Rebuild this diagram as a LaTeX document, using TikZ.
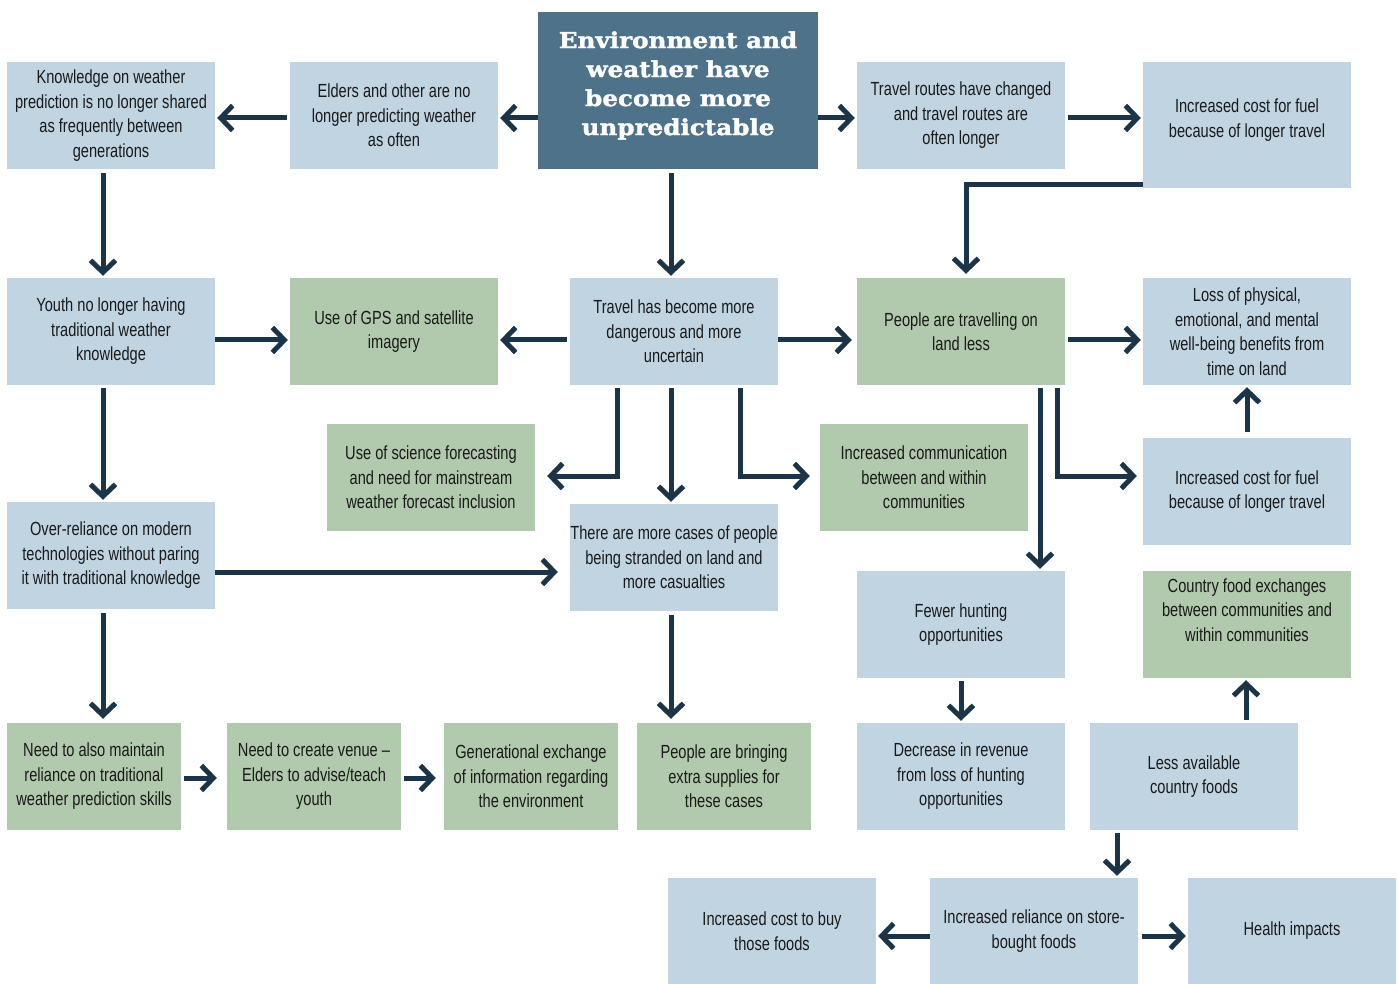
\documentclass[tikz,border=0pt]{standalone}
\usepackage{fontspec}
\setmainfont{Liberation Sans}[FakeStretch=0.77]
\newfontfamily\titlefont{DejaVu Serif}[FakeStretch=1.12,FakeBold=1.6]
\usetikzlibrary{arrows.meta}
\definecolor{boxblue}{HTML}{C0D4E2}
\definecolor{boxgreen}{HTML}{B1C9AC}
\definecolor{boxtitle}{HTML}{4E7289}
\definecolor{arrowc}{HTML}{1B3447}
\definecolor{txt}{HTML}{1A1A1A}
\begin{document}
\begin{tikzpicture}[x=1pt,y=-1pt,
 box/.style={fill=boxblue, minimum width=208pt, minimum height=107pt, inner sep=0pt, align=center, text=txt, font=\fontsize{19}{24.5}\selectfont},
 gbox/.style={box, fill=boxgreen},
 narrow/.style={minimum width=174pt},
 plaintext/.style={inner sep=0pt, align=center, text=txt, font=\fontsize{19}{24.5}\selectfont},
 arr/.style={draw=arrowc, line width=5pt, shorten <=3pt, shorten >=2pt, -{Straight Barb[length=12pt,width=25pt]}},
]
\useasboundingbox (0,0) rectangle (1398,984);
% row 1
\node[box] (K1) at (111,115.5) {Knowledge on weather\\prediction is no longer shared\\as frequently between\\generations};
\node[box] (E1) at (394,115.5) {Elders and other are no\\longer predicting weather\\as often};
\node[box, fill=boxtitle, minimum width=280pt, minimum height=157pt] (TITLE) at (678,90.5) {};
\node[inner sep=0pt, align=center, text=white, font=\titlefont\bfseries\fontsize{22}{29}\selectfont] (TITLEtext) at ([yshift=5pt]TITLE.center) {Environment and\\weather have\\become more\\unpredictable};
\node[box] (T1) at (961,115.5) {Travel routes have changed\\and travel routes are\\often longer};
\node[box, minimum height=126pt] (F1) at (1247,125) {};
\node[plaintext] (F1text) at ([yshift=5pt]F1.center) {Increased cost for fuel\\because of longer travel};
% row 2
\node[box] (Y) at (111,331.5) {Youth no longer having\\traditional weather\\knowledge};
\node[gbox] (GPS) at (394,331.5) {Use of GPS and satellite\\imagery};
\node[box] (TD) at (674,331.5) {Travel has become more\\dangerous and more\\uncertain};
\node[gbox] (PL) at (961,331.5) {People are travelling on\\land less};
\node[box] (LOSS) at (1247,331.5) {Loss of physical,\\emotional, and mental\\well-being benefits from\\time on land};
% row 3
\node[gbox] (SCI) at (431,477.5) {Use of science forecasting\\and need for mainstream\\weather forecast inclusion};
\node[gbox] (COMM) at (924,477.5) {Increased communication\\between and within\\communities};
\node[box] (FUEL2) at (1247,491.5) {Increased cost for fuel\\because of longer travel};
\node[box] (OVER) at (111,555.5) {Over-reliance on modern\\technologies without paring\\it with traditional knowledge};
\node[box] (STR) at (674,557.5) {There are more cases of people\\being stranded on land and\\more casualties};
% row 4
\node[box] (FEW) at (961,624.5) {Fewer hunting\\opportunities};
\node[gbox] (CFE) at (1247,624.5) {};
\node[plaintext] (CFEtext) at ([yshift=14.5pt]CFE.center) {Country food exchanges\\between communities and\\within communities};
% row 5
\node[gbox, narrow] (NEED) at (94,776.5) {Need to also maintain\\reliance on traditional\\weather prediction skills};
\node[gbox, narrow] (VENUE) at (314,776.5) {Need to create venue –\\Elders to advise/teach\\youth};
\node[gbox, narrow] (GEN) at (531,776.5) {Generational exchange\\of information regarding\\the environment};
\node[gbox, narrow] (BRING) at (724,776.5) {People are bringing\\extra supplies for\\these cases};
\node[box] (DEC) at (961,776.5) {Decrease in revenue\\from loss of hunting\\opportunities};
\node[box] (LESS) at (1194,776.5) {Less available\\country foods};
% row 6
\node[box, minimum height=106pt] (COST) at (772,931) {Increased cost to buy\\those foods};
\node[box, minimum height=106pt] (REL) at (1034,931) {Increased reliance on store-\\bought foods};
\node[box, minimum height=106pt] (HEALTH) at (1292,931) {Health impacts};
% connectors
\draw[arr] ([yshift=-2.5pt]E1.west) -- ([yshift=-2.5pt]K1.east);
\draw[arr, shorten <=0pt] ([yshift=-27.5pt]TITLE.west) -- ([yshift=-2.5pt]E1.east);
\draw[arr, shorten <=0pt] ([yshift=-27.5pt]TITLE.east) -- ([yshift=-2.5pt]T1.west);
\draw[arr] ([yshift=-2.5pt]T1.east) -- ([yshift=7pt]F1.west);
\draw[arr, shorten <=0pt, shorten >=4pt] ([yshift=4pt]F1.south west) -| ([xshift=5pt]PL.north);
\draw[arr, shorten <=4pt] ([xshift=-8pt]K1.south) -- ([xshift=-8pt]Y.north);
\draw[arr, shorten <=4pt] ([xshift=-7pt]TITLE.south) -- ([xshift=-3pt]TD.north);
\draw[arr, shorten <=0pt] ([yshift=-8.5pt]Y.east) -- ([yshift=-8.5pt]GPS.west);
\draw[arr] ([yshift=-8.5pt]TD.west) -- ([yshift=-8.5pt]GPS.east);
\draw[arr, shorten <=0pt, shorten >=5pt] ([yshift=-8.5pt]TD.east) -- ([yshift=-8.5pt]PL.west);
\draw[arr, shorten >=2pt] ([yshift=-8.5pt]PL.east) -- ([yshift=-8.5pt]LOSS.west);
\draw[arr, shorten <=6pt] (FUEL2.north) -- (LOSS.south);
\draw[arr] ([xshift=-8pt]Y.south) -- ([xshift=-8pt]OVER.north);
\draw[arr, shorten >=12pt] ([xshift=-57pt]TD.south) |- ([yshift=1.5pt]SCI.east);
\draw[arr] ([xshift=-3pt]TD.south) -- ([xshift=-3pt]STR.north);
\draw[arr, shorten >=10pt] ([xshift=66pt]TD.south) |- ([yshift=1.5pt]COMM.west);
\draw[arr] ([xshift=79pt]PL.south) -- ([xshift=79pt]FEW.north);
\draw[arr, shorten >=6pt] ([xshift=96pt]PL.south) |- ([yshift=15.5pt]FUEL2.west);
\draw[arr, shorten <=0pt, shorten >=12pt] ([yshift=-16.5pt]OVER.east) -- ([yshift=-14.5pt]STR.west);
\draw[arr, shorten <=4pt, shorten >=4pt] ([xshift=-8pt]OVER.south) -- ([xshift=9pt]NEED.north);
\draw[arr, shorten <=4pt, shorten >=4pt] ([xshift=-3pt]STR.south) -- ([xshift=-53pt]BRING.north);
\draw[arr] (FEW.south) -- (DEC.north);
\draw[arr] ([xshift=52pt]LESS.north) -- ([xshift=-1pt]CFE.south);
\draw[arr, shorten >=10pt] ([yshift=-1.5pt]NEED.east) -- ([yshift=-1.5pt]VENUE.west);
\draw[arr, shorten >=8pt] ([yshift=-1.5pt]VENUE.east) -- ([yshift=-1.5pt]GEN.west);
\draw[arr] ([xshift=-77pt]LESS.south) -- ([xshift=83pt]REL.north);
\draw[arr, shorten <=0pt] ([yshift=-5pt]REL.west) -- ([yshift=-5pt]COST.east);
\draw[arr, shorten <=4pt] ([yshift=-5pt]REL.east) -- ([yshift=-5pt]HEALTH.west);
\end{tikzpicture}
\end{document}
